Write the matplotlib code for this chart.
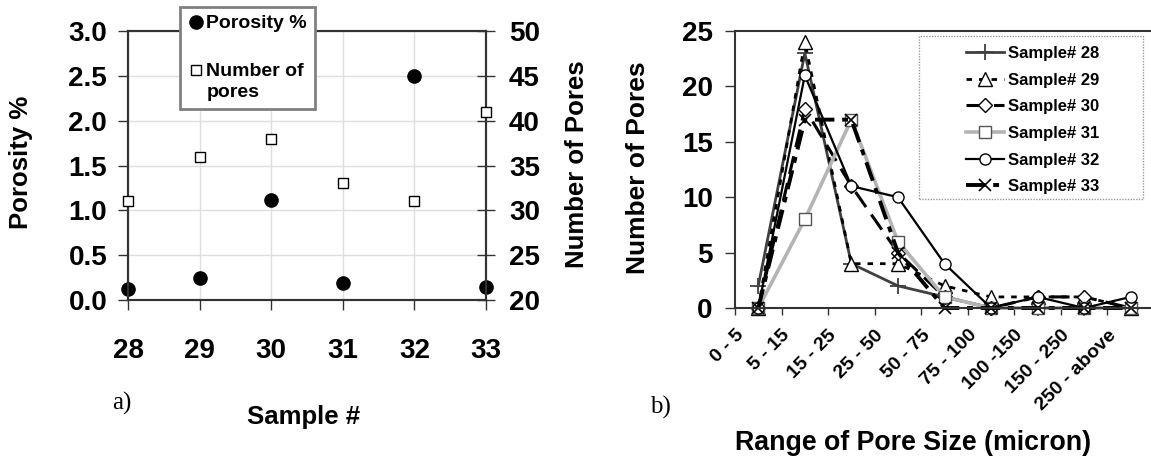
import matplotlib
matplotlib.use("Agg")
import matplotlib.pyplot as plt
from matplotlib.patches import Rectangle
from matplotlib.transforms import ScaledTranslation

plt.rcParams["font.family"] = ["Liberation Sans", "DejaVu Sans"]
plt.rcParams["font.weight"] = "bold"

# ---- panel a) data ----
samples = [28, 29, 30, 31, 32, 33]
porosity_pct = [0.12, 0.24, 1.12, 0.19, 2.50, 0.14]
number_of_pores = [31, 36, 38, 33, 31, 41]

# ---- panel b) data ----
size_ranges = ["0 - 5", "5 - 15", "15 - 25", "25 - 50", "50 - 75",
               "75 - 100", "100 -150", "150 - 250", "250 - above"]
sample_28 = [2, 23, 4, 2, 1, 0, 0, 0, 0]
sample_29 = [0, 24, 4, 4, 2, 1, 1, 1, 0]
sample_30 = [0, 18, 11, 5, 1, 0, 1, 1, 0]
sample_31 = [0, 8, 17, 6, 1, 0, 0, 0, 0]
sample_32 = [0, 21, 11, 10, 4, 0, 1, 0, 1]
sample_33 = [0, 17, 17, 5, 0, 0, 0, 0, 0]
series_labels = ["Sample# 28", "Sample# 29", "Sample# 30",
                 "Sample# 31", "Sample# 32", "Sample# 33"]

W, H = 1151, 457
fig = plt.figure(figsize=(W / 100, H / 100), dpi=100)

def fx(px):
    return px / W

def fy(py):
    return 1 - py / H

spine_col = "#333333"

# ================= panel a) =================
ax1 = fig.add_axes([fx(128), fy(300), fx(486) - fx(128), fy(31) - fy(300)])
ax2 = ax1.twinx()

ax1.plot(samples, porosity_pct, ls="none", marker="o", ms=9.5,
         color="black", clip_on=False, zorder=4, label="Porosity %")
ax2.plot(samples, number_of_pores, ls="none", marker="s", ms=7.5,
         mfc="white", mec="black", mew=1.0, clip_on=False, zorder=4,
         label="Number of\npores")

ax1.set_xlim(28, 33)
ax1.set_ylim(0, 3.0)
ax2.set_ylim(20, 50)
ax1.set_xticks(samples)
ax1.set_yticks([0.0, 0.5, 1.0, 1.5, 2.0, 2.5, 3.0])
ax1.set_yticklabels([f"{v:.1f}" for v in ax1.get_yticks()])
ax2.set_yticks(range(20, 51, 5))

ax1.grid(True, color="#dedede", lw=1.0)
ax1.set_axisbelow(True)

for a in (ax1, ax2):
    for s in a.spines.values():
        s.set_color(spine_col)
        s.set_linewidth(1.5)

ax1.tick_params(axis="x", direction="out", length=7, width=1, color=spine_col,
                labelsize=20, pad=20)
ax1.tick_params(axis="y", direction="out", length=7, width=1, color=spine_col,
                labelsize=20, pad=8)
ax2.tick_params(axis="y", direction="inout", length=13, width=1, color=spine_col,
                labelsize=20, pad=10)

ax1.set_ylabel("Porosity %", fontsize=18.5, fontweight="bold")
ax1.yaxis.set_label_coords(-0.265, 0.51)
ax2.set_ylabel("Number of Pores", fontsize=18.5, fontweight="bold")
ax2.yaxis.set_label_coords(1.22, 0.506)
ax1.set_xlabel("Sample #", fontsize=18.5, fontweight="bold")
ax1.xaxis.set_label_coords(0.49, -0.39)

h1, l1 = ax1.get_legend_handles_labels()
h2, l2 = ax2.get_legend_handles_labels()
leg1 = ax2.legend(h1 + h2, l1 + l2, loc="upper left",
                  bbox_to_anchor=(fx(180), fy(7)), bbox_transform=fig.transFigure,
                  borderaxespad=0, borderpad=0.4, handlelength=0.8,
                  handletextpad=0.15, labelspacing=1.6, fontsize=14,
                  fancybox=False, framealpha=1, edgecolor="#808080")
leg1.get_frame().set_linewidth(2)
for t in leg1.get_texts():
    t.set_fontweight("bold")
    t.set_linespacing(1.3)
# put the square beside the first line of its two-line label
sq = leg1.legend_handles[1]
sq.set_ydata([v + 9 for v in sq.get_ydata()])

fig.text(fx(122), fy(403), "a)", family=["Liberation Serif"], fontweight="normal",
         fontsize=18, ha="center", va="center")

# ================= panel b) =================
ax3 = fig.add_axes([fx(735), fy(308), fx(419), fy(31) - fy(308)])
xpos = [i + 0.5 for i in range(len(size_ranges))]

styles = [
    dict(color="#404040", lw=2.0, ls="-", marker="+", ms=11, mew=1.3),
    dict(color="black", lw=2.0, ls=(0, (2, 2.5)), marker="^", ms=10,
         mfc="white", mec="black", mew=1.0),
    dict(color="black", lw=2.2, ls=(0, (6, 3)), marker="D", ms=7.5,
         mfc="white", mec="black", mew=1.0),
    dict(color="#b4b4b4", lw=2.6, ls="-", marker="s", ms=9,
         mfc="white", mec="#555555", mew=1.0),
    dict(color="black", lw=1.6, ls="-", marker="o", ms=8,
         mfc="white", mec="black", mew=1.0),
    dict(color="black", lw=2.8, ls=(0, (5, 2, 1.5, 2)), marker="x", ms=9,
         mec="black", mew=1.2),
]
all_series = [sample_28, sample_29, sample_30, sample_31, sample_32, sample_33]
for vals, lab, st in zip(all_series, series_labels, styles):
    ax3.plot(xpos, vals, label=lab, clip_on=False, **st)

ax3.set_xlim(0, len(size_ranges))
ax3.set_ylim(0, 25)
ax3.set_yticks(range(0, 26, 5))
ax3.set_xticks(range(len(size_ranges)))
ax3.set_xticklabels(size_ranges, rotation=45, ha="right", va="top",
                    rotation_mode="anchor", fontsize=14, fontweight="bold")
shift = ScaledTranslation(9 / 100, 0, fig.dpi_scale_trans)
for lbl in ax3.get_xticklabels():
    lbl.set_transform(lbl.get_transform() + shift)

for name, s in ax3.spines.items():
    s.set_color(spine_col)
    s.set_linewidth(1.5)
ax3.spines["right"].set_visible(False)
ax3.tick_params(axis="x", direction="out", length=5, width=1, color=spine_col, pad=8.5)
ax3.tick_params(axis="y", direction="out", length=7, width=1, color=spine_col,
                labelsize=20, pad=9)

ax3.set_ylabel("Number of Pores", fontsize=19, fontweight="bold")
ax3.yaxis.set_label_coords(-0.203, 0.505)
ax3.set_xlabel("Range of Pore Size (micron)", fontsize=19.3, fontweight="bold")
ax3.xaxis.set_label_coords(0.424, -0.44)

leg2 = ax3.legend(loc="upper left", bbox_to_anchor=(fx(966), fy(46)),
                  bbox_transform=fig.transFigure, borderaxespad=0, borderpad=0,
                  handlelength=2.3, handletextpad=0.2, labelspacing=0.70,
                  fontsize=12, frameon=False)
for t in leg2.get_texts():
    t.set_fontweight("bold")
fig.patches.append(Rectangle((fx(919), fy(199)), fx(1143) - fx(919), fy(36) - fy(199),
                             transform=fig.transFigure, fill=False,
                             edgecolor="#999999", lw=1.0, ls=(0, (1, 1)), zorder=3))

fig.text(fx(660), fy(407), "b)", family=["Liberation Serif"], fontweight="normal",
         fontsize=18, ha="center", va="center")

fig.savefig("out.png", dpi=100)
